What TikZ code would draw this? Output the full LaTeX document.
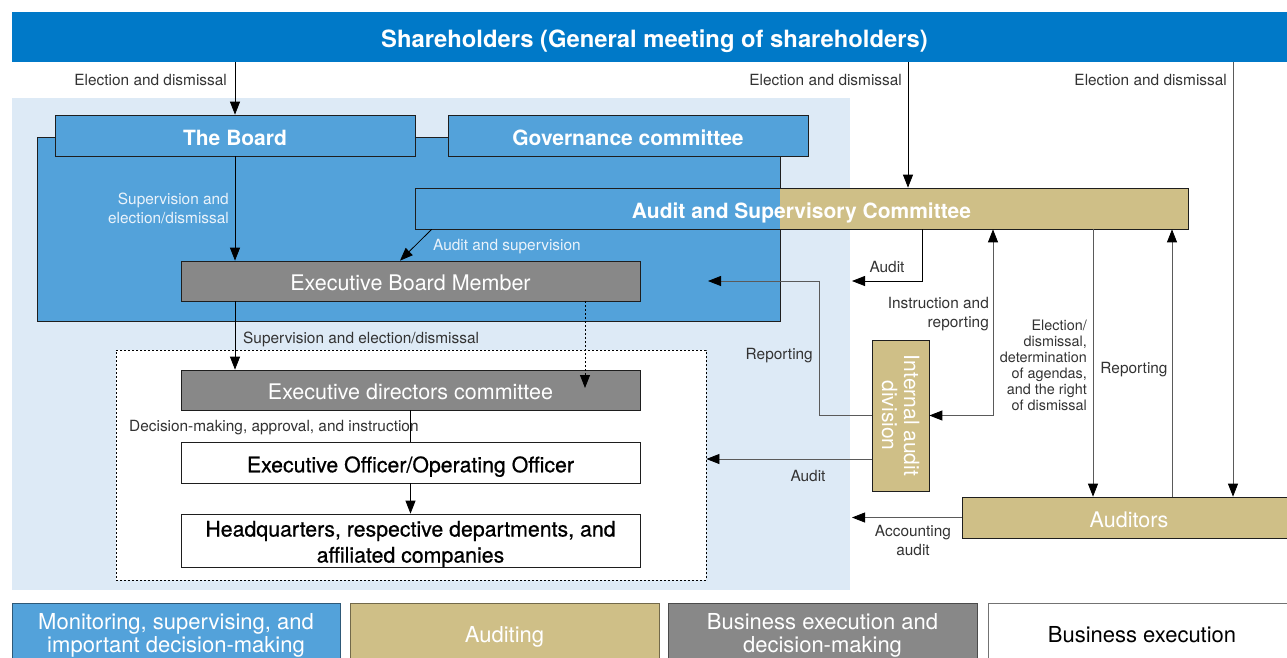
\documentclass[tikz,border=0pt]{standalone}
\usepackage{fontspec}
\setmainfont{TeX Gyre Heros}
\newfontfamily\medfont[FakeBold=0.7]{TeX Gyre Heros}
\usetikzlibrary{arrows.meta}
\definecolor{shblue}{HTML}{0079C8}
\definecolor{bgblue}{HTML}{DDEAF6}
\definecolor{midblue}{HTML}{53A2DA}
\definecolor{tanc}{HTML}{CFBF87}
\definecolor{grayc}{HTML}{888888}
\definecolor{boxline}{HTML}{1E1E1E}
\definecolor{lblgray}{HTML}{333333}
\definecolor{linegray}{HTML}{5A5A5A}
\definecolor{wlbl}{HTML}{EAF3FB}
\begin{document}
\begin{tikzpicture}[x=1pt,y=-1pt,
  box/.style={draw=boxline,line width=0.7pt,inner sep=0pt,align=center},
  one/.style={text height=19.5pt,text depth=0pt},
  bbold/.style={font=\bfseries\fontsize{21}{25}\selectfont},
  breg/.style={font=\fontsize{21.5}{25}\selectfont},
  bmed/.style={font=\medfont\fontsize{21.3}{25}\selectfont},
  bluebox/.style={box,one,fill=midblue,text=white,bbold},
  graybox/.style={box,one,fill=grayc,text=white,breg},
  whitebox/.style={box,fill=white,text=black,bmed},
  tanbox/.style={box,one,fill=tanc,text=white,breg},
  legbox/.style={draw=#1!55!black,fill=#1,line width=0.7pt,inner sep=0pt,
     minimum height=62pt,font=\fontsize{22}{23}\selectfont},
  lbl/.style={inner sep=0pt,text=lblgray,font=\fontsize{15.4}{19}\selectfont},
  wl/.style={inner sep=0pt,text=wlbl,font=\fontsize{15.4}{19}\selectfont},
  arr/.style={line width=0.8pt,-{Triangle[length=13pt,width=10pt]}},
  garr/.style={line width=0.8pt,draw=linegray,-{Triangle[length=13pt,width=10pt,color=black]}},
  dotl/.style={line width=0.8pt,dash pattern=on 2pt off 2pt}
]
\useasboundingbox (0,0) rectangle (1287,657);
% title bar
\node[fill=shblue,text=white,inner sep=0pt,minimum width=1285pt,minimum height=50pt,
  text height=21pt,text depth=0pt,font=\bfseries\fontsize{23.8}{28}\selectfont] (sh) at (654.5,37)
  {Shareholders (General meeting of shareholders)};
% background region
\fill[bgblue] (12,98) rectangle (850,590);
% board area
\node[box,fill=midblue,minimum width=743pt,minimum height=184pt] (area) at (408.5,229) {};
\node[bluebox,minimum width=360pt,minimum height=41pt] (board) at (235,135.5) {The Board};
\node[bluebox,minimum width=360pt,minimum height=41pt] (gov) at (628,135.5) {Governance committee};
% audit & supervisory committee (split fill)
\fill[midblue] (415,188) rectangle (780,229);
\fill[tanc] (780,188) rectangle (1188,229);
\node[box,one,text=white,bbold,minimum width=773pt,minimum height=41pt] (asc) at (801.5,208.5)
  {Audit and Supervisory Committee};
\node[graybox,minimum width=459pt,minimum height=40pt] (ebm) at (410.5,281) {Executive Board Member};
% dashed execution area
\node[draw,fill=white,dotl,inner sep=0pt,minimum width=590pt,minimum height=230pt] (ex) at (411,465) {};
\node[graybox,minimum width=459pt,minimum height=40pt] (edc) at (410.5,390) {Executive directors committee};
\node[whitebox,one,minimum width=459pt,minimum height=41pt] (eoo) at (410.5,462.5) {Executive Officer/Operating Officer};
\node[whitebox,minimum width=459pt,minimum height=53pt] (hq) at (410.5,540.5)
  {\raisebox{-4pt}[\height][\depth]{\begin{tabular}{@{}c@{}}Headquarters, respective departments, and\\[1pt]affiliated companies\end{tabular}}};
% internal audit division
\node[tanbox,minimum width=57pt,minimum height=151pt,text height=0pt] (iad) at (900.5,415.5) {};
\node[rotate=-90,inner sep=0pt,align=center,text=white,font=\fontsize{21}{22}\selectfont]
  (iadtext) at (iad.center) {Internal audit\\division};
% auditors
\node[tanbox,minimum width=334pt,minimum height=41pt] (aud) at (1129,517.5) {Auditors};
% legend
\node[legbox=midblue,text=white,minimum width=328pt] (lg1) at (176,634)
  {\raisebox{-2pt}[\height][\depth]{\begin{tabular}{@{}c@{}}Monitoring, supervising, and\\important decision-making\end{tabular}}};
\node[legbox=tanc,text=white,minimum width=309pt,text height=17pt,text depth=0pt] (lg2) at (504.5,634) {Auditing};
\node[legbox=grayc,text=white,minimum width=309pt] (lg3) at (822.5,634)
  {\raisebox{-2pt}[\height][\depth]{\begin{tabular}{@{}c@{}}Business execution and\\decision-making\end{tabular}}};
\node[legbox=white,draw=black!55,text=black,minimum width=308pt,text height=17pt,text depth=0pt] (lg4) at (1142,634) {Business execution};

% coordinates for free ends and bends
\coordinate (xa) at (922,0);
\coordinate (xs) at (908,0);
\coordinate (auditend) at (852,281);
\coordinate (repcorner) at (819,415.5);
\coordinate (repbend) at (819,281);
\coordinate (repend) at (708,281);
\coordinate (xi) at (993,0);
\coordinate (x1) at (1093,0);
\coordinate (x2) at (1172,0);
\coordinate (x3) at (1233,0);
\coordinate (ya) at (0,459);
\coordinate (accend) at (852,517.5);
\coordinate (dotend) at (585,388);
\coordinate (dotx) at (585,0);

% connectors
\draw[arr] (sh.south -| board.north) -- (board.north);
\draw[arr] (sh.south -| xs) -- (asc.north -| xs);
\draw[garr] (sh.south -| x3) -- (aud.north -| x3);
\draw[arr] (board.south) -- (ebm.north -| board.south);
\draw[arr] ([xshift=17pt]asc.south west) -- ([xshift=-10.5pt]ebm.north);
\draw[arr] (ebm.south -| board.south) -- (edc.north -| board.south);
\draw[dotl,-{Triangle[length=13pt,width=10pt]}] (ebm.south -| dotx) -- (dotend);
\draw[line width=0.8pt] (edc.south) -- (eoo.north);
\draw[arr] (eoo.south) -- (hq.north);
\draw[arr] (asc.south -| xa) |- (auditend);
\draw[garr] (iad.west) -- (repcorner) -- (repbend) -- (repend);
\draw[garr,{Triangle[length=13pt,width=10pt,color=black]}-{Triangle[length=13pt,width=10pt,color=black]}]
  (asc.south -| xi) |- (iad.east);
\draw[garr] (iad.west |- ya) -- (ex.east |- ya);
\draw[garr] (asc.south -| x1) -- (aud.north -| x1);
\draw[garr] (aud.north -| x2) -- (asc.south -| x2);
\draw[garr] (aud.west) -- (accend);

% labels
\node[lbl,anchor=east] (l1) at (227,79.5) {Election and dismissal};
\node[lbl,anchor=east] (l2) at (902,79.5) {Election and dismissal};
\node[lbl,anchor=east] (l3) at (1227,79.5) {Election and dismissal};
\node[wl,anchor=east,align=right] (l4) at (229,208.5) {Supervision and\\election/dismissal};
\node[wl,anchor=west] (l5) at (433,247) {Audit and supervision};
\node[lbl,anchor=west] (l6) at (243,339) {Supervision and election/dismissal};
\node[lbl,anchor=west] (l7) at (129,428) {Decision-making, approval, and instruction};
\node[lbl] (l8) at (887,267) {Audit};
\node[lbl,anchor=east,align=right] (l9) at (989,314.5) {Instruction and\\reporting};
\node[lbl,anchor=east] (l10) at (813,356) {Reporting};
\node[lbl,anchor=east,align=right,font=\fontsize{14.4}{16}\selectfont] (l11) at (1087,365)
  {Election/\\dismissal,\\determination\\of agendas,\\and the right\\of dismissal};
\node[lbl] (l12) at (1134,370) {Reporting};
\node[lbl] (l13) at (808,476) {Audit};
\node[lbl,align=center] (l14) at (913,540.5) {Accounting\\audit};
\end{tikzpicture}
\end{document}
